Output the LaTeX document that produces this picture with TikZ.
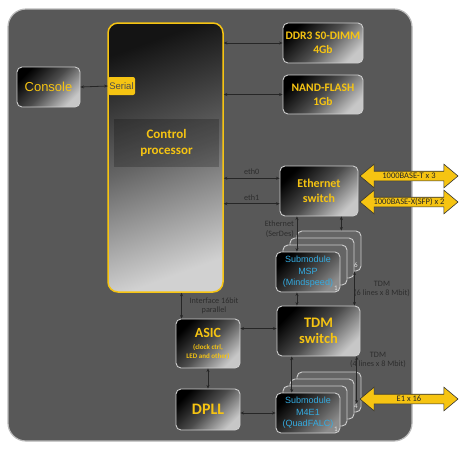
\documentclass[tikz,border=0pt]{standalone}
\usepackage{fontspec}
\setmainfont{Carlito}
\newfontfamily\arialfont{Liberation Sans}
\usetikzlibrary{arrows.meta,calc,shapes.arrows}

\definecolor{panelgray}{RGB}{88,88,88}
\definecolor{boxyellow}{RGB}{246,196,18}
\definecolor{subcyan}{RGB}{52,172,226}
\definecolor{labelgray}{RGB}{45,45,45}
\definecolor{rimgray}{RGB}{205,205,205}

\tikzset{
  panel/.style={draw=gray!55, line width=1.2pt, fill=panelgray, rounded corners=18pt},
  box/.style={draw=rimgray, line width=0.9pt, rounded corners=5pt,
    top color=black, bottom color=black!22, middle color=black!70, shading angle=45,
    inner sep=1pt, align=center, text=boxyellow, font=\bfseries},
  cpbox/.style={draw=boxyellow, line width=1.5pt, rounded corners=10pt,
    top color=black!92, bottom color=black!18, middle color=black!60, shading angle=20},
  cplabel/.style={fill=black, fill opacity=0.22, text opacity=1, text=boxyellow,
    align=center, font=\bfseries\fontsize{13}{16}\selectfont},
  serialtab/.style={fill=boxyellow, rounded corners=2pt, inner sep=0.5pt,
    text=black!70, font=\arialfont\fontsize{9.5}{10}\selectfont},
  card/.style={draw=rimgray, line width=0.9pt, rounded corners=5pt, fill=panelgray!92!white},
  subbox/.style={box, top color=black, bottom color=black!45, middle color=black!75,
    shading angle=45, text=subcyan, font=\arialfont\fontsize{9}{11.5}\selectfont},
  numlbl/.style={text=gray!25, inner sep=0pt, font=\fontsize{7}{8}\selectfont},
  lbl/.style={text=labelgray, inner sep=0pt, align=center, font=\fontsize{8.2}{9.5}\selectfont},
  link/.style={{Stealth[length=3.5pt,width=3pt]}-{Stealth[length=3.5pt,width=3pt]},
    line width=0.8pt, draw=black!85},
  bigarrow/.style={double arrow, double arrow head extend=7pt, double arrow tip angle=80,
    minimum height=98pt, minimum width=23pt, inner sep=1pt, text height=5.5pt, text depth=1.5pt,
    fill=boxyellow, draw=black!80, line width=0.6pt, text=black!85,
    font=\fontsize{8.5}{9}\selectfont},
}

\begin{document}
\begin{tikzpicture}[x=1pt,y=-1pt]
  \useasboundingbox (0,0) rectangle (464,456);

  % board
  \node [panel, minimum width=404pt, minimum height=432pt](panel) at (210,225) {};

  % control processor
  \node [cpbox, minimum width=115pt, minimum height=269pt](cp) at (165.5,157.5) {};
  \node [cplabel, minimum width=105pt, minimum height=48pt](cpl) at (166.5,143) {Control\\processor};
  \node [serialtab, minimum width=27pt, minimum height=18pt](serial) at (121.5,86) {Serial};

  % boxes round it
  \node [box, minimum width=63pt, minimum height=40pt,
    font=\arialfont\fontsize{13}{14}\selectfont](console) at (48.5,87) {Console};
  \node [box, minimum width=80pt, minimum height=40pt,
    font=\bfseries\fontsize{11.5}{14}\selectfont](ddr) at (323,43) {DDR3 S0-DIMM\\4Gb};
  \node [box, minimum width=80pt, minimum height=39pt,
    font=\bfseries\fontsize{11.5}{14}\selectfont](nand) at (323,94.5) {NAND-FLASH\\1Gb};
  \node [box, minimum width=78pt, minimum height=50pt,
    font=\bfseries\fontsize{12}{15}\selectfont](eth) at (319,191) {Ethernet\\switch};
  \node [box, minimum width=83pt, minimum height=50pt,
    font=\bfseries\fontsize{14.5}{16}\selectfont](tdm) at (318.5,331) {TDM\\switch};
  \node [box, minimum width=64pt, minimum height=49pt,
    font=\bfseries\fontsize{7}{9}\selectfont](asic) at (208,343.5)
    {{\fontsize{14}{14}\selectfont ASIC}\\[3pt](clock ctrl,\\LED and other)};
  \node [box, minimum width=64pt, minimum height=41pt,
    font=\bfseries\fontsize{16}{18}\selectfont](dpll) at (208,409.5) {DPLL};

  % submodule stacks
  \foreach \k/\d in {4/21,3/14,2/7}{
    \node [card, minimum width=64pt, minimum height=40pt](msp\k) at (308+\d,272-\d) {};
    \node [card, minimum width=64pt, minimum height=40pt](mfe\k) at (308+\d,413-\d) {};
  }
  \node [subbox, minimum width=64pt, minimum height=40pt](msp) at (308,272) {Submodule\\MSP\\(Mindspeed)};
  \node [subbox, minimum width=64pt, minimum height=40pt](mfe) at (308,413) {Submodule\\M4E1\\(QuadFALC)};
  \node [numlbl](msp6) at (356,265) {6};
  \node [numlbl](msp1) at (336,288) {1};
  \node [numlbl](mfe4) at (356,406) {4};
  \node [numlbl](mfe1) at (336,429) {1};

  % line interfaces
  \node [bigarrow](gbt) at (409,176) {1000BASE-T x 3};
  \node [bigarrow](gbx) at (409,202) {1000BASE-X(SFP) x 2};
  \node [bigarrow](eone) at (409,399) {E1 x 16};

  % links of the processor
  \draw[link] (console.east) -- (serial.west);
  \draw[link] (ddr.west -| cp.east) -- (ddr.west);
  \draw[link] (nand.west -| cp.east) -- (nand.west);
  \coordinate (e0) at ($(eth.north west)!0.25!(eth.south west)$);
  \coordinate (e1) at ($(eth.north west)!0.75!(eth.south west)$);
  \draw[link] (cp.east |- e0) -- (e0) node[lbl, midway, above=3pt](eth0lbl) {eth0};
  \draw[link] (cp.east |- e1) -- (e1) node[lbl, midway, above=3pt](eth1lbl) {eth1};
  \coordinate (asa) at ($(asic.north west)+(6,0)$);
  \draw[link] (cp.south -| asa) -- (asa);

  % ethernet to MSP to TDM
  \coordinate (mspa) at ($(msp.north west)!0.33!(msp.north east)$);
  \coordinate (mspb) at ($(msp4.north west)!0.69!(msp4.north east)$);
  \coordinate (mspc) at ($(msp4.south east)+(-7,0)$);
  \draw[link] (eth.south -| mspa) -- (mspa);
  \draw[link] (eth.south -| mspb) -- (mspb);
  \draw[link] (msp.south -| mspa) -- (tdm.north -| mspa);
  \draw[link] (mspc) -- (tdm.north -| mspc);

  % ASIC, DPLL, M4E1
  \coordinate (ast) at ($(asic.north east)!0.2!(asic.south east)$);
  \draw[link] (ast) -- (tdm.west |- ast);
  \draw[link] (asic.south) -- (dpll.north);
  \draw[link] (dpll.east |- mfe.west) -- (mfe.west);
  \coordinate (mfa) at ($(mfe.north west)!0.25!(mfe.north east)$);
  \coordinate (mfb) at ($(mfe4.north west)!0.69!(mfe4.north east)$);
  \draw[link] (tdm.south -| mfa) -- (mfa);
  \draw[link] (tdm.south -| mfb) -- (mfb);

  % link labels
  \node [lbl, anchor=east, align=right](serdes) at (294,229) {Ethernet\\(SerDes)};
  \node [lbl](ifc) at (214,306) {Interface 16bit\\parallel};
  \node [lbl](tdmsix) at (382,289) {TDM\\(6 lines x 8 Mbit)};
  \node [lbl](tdmfour) at (378,360) {TDM\\(4 lines x 8 Mbit)};
\end{tikzpicture}
\end{document}
